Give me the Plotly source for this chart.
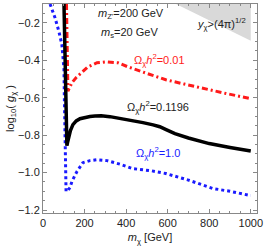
import plotly.graph_objects as go

# Omega h^2 = 0.1196 (black solid)
m_black = [101, 104, 107, 111, 114, 115, 118, 122, 132, 144, 160, 178, 200, 226, 250, 280, 322, 356, 420, 481, 530, 562, 595, 620, 635, 700, 800, 900, 1000]
g_black = [-0.099, -0.28, -0.451, -0.65, -0.824, -0.856, -0.84, -0.816, -0.775, -0.744, -0.724, -0.712, -0.705, -0.700, -0.697, -0.696, -0.701, -0.707, -0.72, -0.733, -0.745, -0.755, -0.772, -0.787, -0.792, -0.815, -0.845, -0.866, -0.885]

# Omega h^2 = 0.01 (red dash-dot)
m_red = [113, 115, 117, 120, 129, 139, 159, 188, 216, 260, 308, 361, 409, 500, 591, 680, 755, 880, 1000]
g_red = [-0.099, -0.35, -0.50, -0.565, -0.545, -0.520, -0.493, -0.461, -0.435, -0.413, -0.408, -0.413, -0.435, -0.47, -0.504, -0.527, -0.547, -0.577, -0.605]

# Omega h^2 = 1.0 (blue dotted)
m_blue = [34, 58, 77, 91, 98, 101, 103, 106, 109, 111, 120, 130, 139, 163, 192, 226, 260, 308, 370, 433, 520, 591, 700, 817, 900, 1000]
g_blue = [-0.099, -0.173, -0.248, -0.317, -0.408, -0.45, -0.61, -0.824, -1.0, -1.101, -1.095, -1.08, -1.048, -0.995, -0.947, -0.936, -0.931, -0.936, -0.955, -0.979, -0.99, -1.005, -1.04, -1.085, -1.10, -1.123]

# Perturbativity excluded region (gray triangle)
m_pert = [640, 1000, 1000, 640]
g_pert = [-0.099, -0.099, -0.296, -0.099]

x_ticks = [0, 200, 400, 600, 800, 1000]
y_ticks = [-1.2, -1.0, -0.8, -0.6, -0.4, -0.2]
y_ticktext = ["−1.2", "−1.0", "−0.8", "−0.6", "−0.4", "−0.2"]

fig = go.Figure()
fig.add_trace(go.Scatter(x=m_pert, y=g_pert, mode="lines", fill="toself",
                         fillcolor="#d9d9d9", line=dict(width=0), hoverinfo="skip"))
fig.add_trace(go.Scatter(x=m_blue, y=g_blue, mode="lines",
                         line=dict(color="#1a1aff", width=3, dash="3px,3px")))
fig.add_trace(go.Scatter(x=m_red, y=g_red, mode="lines",
                         line=dict(color="#ff1a1a", width=3, dash="6px,3px,2px,3px")))
fig.add_trace(go.Scatter(x=m_black, y=g_black, mode="lines",
                         line=dict(color="black", width=3.5)))

fam = "Liberation Sans, Arial, sans-serif"
ann = [
    dict(x=131, y=14, text="<i>m</i><sub>Z'</sub>=200 GeV", color="#222"),
    dict(x=129, y=33, text="<i>m</i><sub>s</sub>=20 GeV", color="#222"),
    dict(x=221, y=24, text="<i>y</i><sub>χ</sub>>(4π)<sup>1/2</sup>", color="#222"),
    dict(x=159, y=60, text="Ω<sub>χ</sub><i>h</i><sup>2</sup>=0.01", color="#ff1a1a"),
    dict(x=158, y=107, text="Ω<sub>χ</sub><i>h</i><sup>2</sup>=0.1196", color="#222"),
    dict(x=158, y=153, text="Ω<sub>χ</sub><i>h</i><sup>2</sup>=1.0", color="#1a1aff"),
]
L, R, T, B = 43, 9, 4, 35
pw, ph = 266 - L - R, 248 - T - B
for a in ann:
    fig.add_annotation(x=(a["x"] - L) / pw, y=1 - (a["y"] - T) / ph, xref="paper", yref="paper",
                       xanchor="center", yanchor="middle", showarrow=False, text=a["text"],
                       font=dict(family=fam, size=11, color=a["color"]))

axis_common = dict(ticks="inside", ticklen=4, tickcolor="#888", showline=True, linecolor="#888",
                   linewidth=1, mirror="ticks", showgrid=False, zeroline=False,
                   tickfont=dict(size=11, color="#222"), ticklabeloverflow="allow")
fig.update_layout(
    width=266, height=248, margin=dict(l=L, r=R, t=T, b=B),
    paper_bgcolor="white", plot_bgcolor="white", showlegend=False,
    font=dict(family=fam, size=11, color="#222"),
    xaxis=dict(range=[0, 1030], tickvals=x_ticks,
               minor=dict(dtick=50, ticks="inside", ticklen=2, tickcolor="#888"),
               title=dict(text="<i>m</i><sub>χ</sub> [GeV]", standoff=5, font=dict(size=11)),
               **axis_common),
    yaxis=dict(range=[-1.216, -0.099], tickvals=y_ticks, ticktext=y_ticktext,
               minor=dict(dtick=0.05, tick0=0, ticks="inside", ticklen=2, tickcolor="#888"),
               title=dict(text="log<sub>10</sub>( <i>g</i><sub>χ</sub> )", standoff=1, font=dict(size=11)),
               **axis_common),
)

fig.write_html("out.html", config={"displayModeBar": False},
               post_script="document.body.style.margin='0';document.body.style.overflow='hidden';")
